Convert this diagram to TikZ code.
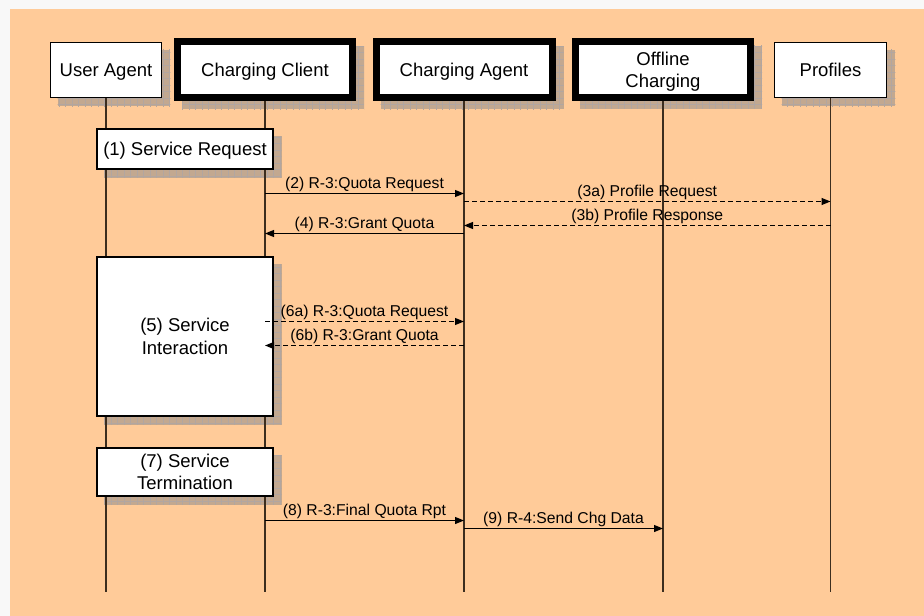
\documentclass[tikz,border=0pt]{standalone}
\usepackage{fontspec}
\setmainfont{Liberation Sans}
\usetikzlibrary{arrows.meta,backgrounds}
\definecolor{peach}{RGB}{255,203,153}
\definecolor{marginc}{RGB}{248,248,248}
\definecolor{shadowc}{RGB}{194,168,144}
\definecolor{shadowgrid}{RGB}{178,166,160}
\definecolor{lifec}{RGB}{60,45,30}
\tikzset{
  actor/.style={draw=black, fill=white, line width=1.8bp, inner sep=0pt, align=center,
    font=\fontsize{18.5bp}{22bp}\selectfont, text depth=0pt, minimum width=111bp, minimum height=55bp},
  thickactor/.style={actor, line width=7bp, minimum width=175bp, minimum height=56bp},
  stepbox/.style={draw=black, fill=white, line width=1.3bp, inner sep=0pt, align=center,
    font=\fontsize{18.5bp}{22.5bp}\selectfont, text depth=0pt, minimum width=176bp},
  lifeline/.style={draw=lifec, line width=1.8bp},
  msg/.style={draw=black, line width=1.1bp, -{Triangle[length=9bp,width=7bp]}},
  dmsg/.style={msg, dash pattern=on 5bp off 3bp},
  lbl/.style={font=\fontsize{15.7bp}{18bp}\selectfont, inner sep=0.5bp, above=1bp, midway}
}
\begin{document}
\begin{tikzpicture}[x=1bp,y=-1bp]
\useasboundingbox (0,0) rectangle (924,616);
% actors
\node[actor] (ua) at (106,70) {User Agent};
\node[thickactor] (cc) at (265,70) {Charging Client};
\node[thickactor, minimum width=176bp] (ca) at (464,70) {Charging Agent};
\node[thickactor] (oc) at (663,69.5) {Offline\\Charging};
\node[actor, minimum width=112bp] (pr) at (830.5,70) {Profiles};
% steps
\node[stepbox, minimum height=40bp] (s1) at (185,149) {(1) Service Request};
\node[stepbox, minimum height=159bp] (s5) at (185,336.5) {(5) Service\\Interaction};
\node[stepbox, minimum height=48bp] (s7) at (185,472) {(7) Service\\Termination};
% ends of lifelines
\coordinate (eua) at (106,592);
\coordinate (ecc) at (265,592);
\coordinate (eca) at (464,592);
\coordinate (eoc) at (663,592);
\coordinate (epr) at (830.5,592);
\begin{pgfonlayer}{background}
  \fill[marginc] (0,0) rectangle (940,630);
  \fill[peach] (10,9) rectangle (940,630);
  \foreach \n in {ua,cc,ca,oc,pr,s1,s5,s7} {
    \path ([shift={(8,8)}]\n.north west) coordinate (sa)
          ([shift={(8,8)}]\n.south east) coordinate (sb);
    \fill[shadowc] (sa) rectangle (sb);
    \begin{scope}
      \clip (sa) rectangle (sb);
      \draw[shadowgrid, line width=0.6bp, shift={(0.5,0.5)}] (0,0) grid[step=6.5bp] (924,616);
    \end{scope}
  }
  \draw[lifeline] (ua.south) -- (eua);
  \draw[lifeline] (cc.south) -- (ecc);
  \draw[lifeline] (ca.south) -- (eca);
  \draw[lifeline] (oc.south) -- (eoc);
  \draw[lifeline] (pr.south) -- (epr);
\end{pgfonlayer}
% messages
\draw[msg] (cc |- 0,193.5) -- node[lbl] {(2) R-3:Quota Request} (ca |- 0,193.5);
\draw[dmsg] (ca |- 0,201.5) -- node[lbl] {(3a) Profile Request} (pr |- 0,201.5);
\draw[dmsg] (pr |- 0,225.5) -- node[lbl] {(3b) Profile Response} (ca |- 0,225.5);
\draw[msg] (ca |- 0,233.5) -- node[lbl] {(4) R-3:Grant Quota} (cc |- 0,233.5);
\draw[dmsg] (cc |- 0,321.5) -- node[lbl] {(6a) R-3:Quota Request} (ca |- 0,321.5);
\draw[dmsg] (ca |- 0,345.5) -- node[lbl] {(6b) R-3:Grant Quota} (cc |- 0,345.5);
\draw[msg] (cc |- 0,520.5) -- node[lbl] {(8) R-3:Final Quota Rpt} (ca |- 0,520.5);
\draw[msg] (ca |- 0,528.5) -- node[lbl] {(9) R-4:Send Chg Data} (oc |- 0,528.5);
\end{tikzpicture}
\end{document}
